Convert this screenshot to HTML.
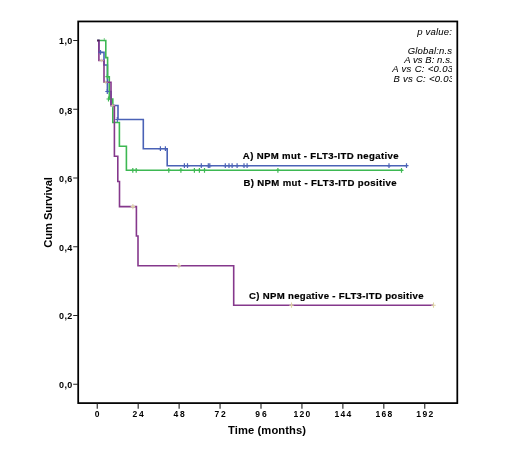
<!DOCTYPE html>
<html><head><meta charset="utf-8"><style>
html,body{margin:0;padding:0;background:#fff;width:520px;height:449px;overflow:hidden;}
svg{display:block;will-change:transform;}
</style></head><body>
<svg width="520" height="449" viewBox="0 0 520 449">
<defs><clipPath id="pc"><rect x="300" y="0" width="152.1" height="100"/></clipPath></defs>
<rect x="78.2" y="21.45" width="379.1" height="381.65" fill="none" stroke="#000" stroke-width="1.75"/>
<path d="M73.2,40.50H78M73.2,109.26H78M73.2,178.02H78M73.2,246.78H78M73.2,315.54H78M73.2,384.30H78" stroke="#222" stroke-width="1.1"/>
<path d="M97.24,403.5V408.7M138.18,403.5V408.7M179.12,403.5V408.7M220.06,403.5V408.7M261.00,403.5V408.7M301.94,403.5V408.7M342.88,403.5V408.7M383.82,403.5V408.7M424.76,403.5V408.7" stroke="#222" stroke-width="1.1"/>
<path d="M97.2,40.5 H98.9 V52.4 H104 V65 H107.4 V91.5 H111 V105.5 H118 V119.5 H143.3 V148.7 H167.2 V165.7 H407.2" stroke="#4a62b6" stroke-width="1.6" fill="none"/>
<path d="M97.2,40.5 H105.8 V57.6 H107.6 V76.7 H109.3 V99 H112.8 V122.5 H119.4 V146.3 H126.4 V170.3 H402.6" stroke="#3db852" stroke-width="1.6" fill="none"/>
<path d="M97.2,40.5 H98.9 V60.5 H104 V82.3 H111 V105.5 H114.4 V156.3 H117.8 V181.5 H119.5 V206.6 H136.4 V236 H138 V265.7 H233.7 V305.2 H433.3" stroke="#85388c" stroke-width="1.6" fill="none"/>
<path d="M100.50,50.00V54.80M98.50,52.40H102.50M117.30,117.10V121.90M115.30,119.50H119.30M107.30,89.10V93.90M105.30,91.50H109.30M160.40,146.30V151.10M158.40,148.70H162.40M165.40,146.30V151.10M163.40,148.70H167.40M184.40,163.30V168.10M182.40,165.70H186.40M187.50,163.30V168.10M185.50,165.70H189.50M201.30,163.30V168.10M199.30,165.70H203.30M208.30,163.30V168.10M206.30,165.70H210.30M209.80,163.30V168.10M207.80,165.70H211.80M225.30,163.30V168.10M223.30,165.70H227.30M229.00,163.30V168.10M227.00,165.70H231.00M232.10,163.30V168.10M230.10,165.70H234.10M237.10,163.30V168.10M235.10,165.70H239.10M244.00,163.30V168.10M242.00,165.70H246.00M247.10,163.30V168.10M245.10,165.70H249.10M389.00,163.30V168.10M387.00,165.70H391.00M406.50,163.30V168.10M404.50,165.70H408.50" stroke="#4a62b6" stroke-width="1.2" fill="none"/>
<path d="M108.50,96.60V101.40M106.50,99.00H110.50M107.40,74.30V79.10M105.40,76.70H109.40M132.80,167.90V172.70M130.80,170.30H134.80M136.20,167.90V172.70M134.20,170.30H138.20M168.80,167.90V172.70M166.80,170.30H170.80M180.90,167.90V172.70M178.90,170.30H182.90M194.40,167.90V172.70M192.40,170.30H196.40M199.40,167.90V172.70M197.40,170.30H201.40M204.50,167.90V172.70M202.50,170.30H206.50M277.90,167.90V172.70M275.90,170.30H279.90M401.50,167.90V172.70M399.50,170.30H403.50" stroke="#3db852" stroke-width="1.2" fill="none"/>
<path d="M132.90,204.00V209.20M130.70,206.60H135.10M178.90,263.10V268.30M176.70,265.70H181.10M291.50,302.60V307.80M289.30,305.20H293.70M433.50,302.60V307.80M431.30,305.20H435.70" stroke="#ddd3a4" stroke-width="1.1" fill="none"/>
<g opacity="0.7"><path d="M101.50,58.70V62.30M99.30,60.50H103.70M105.50,80.50V84.10M103.30,82.30H107.70M112.60,103.70V107.30M110.40,105.50H114.80" stroke="#ddd3a4" stroke-width="1.0" fill="none"/></g>
<path d="M104.3,38V41.2" stroke="#3db852" stroke-width="1.1" opacity="0.6"/>
<path d="M97.2,40.5H99.6" stroke="#4d1d5a" stroke-width="1.6"/>
<text x="72.6" y="44.30" font-family="Liberation Sans, sans-serif" font-size="9" font-weight="bold" text-anchor="end" letter-spacing="0.35">1,0</text>
<text x="72.6" y="113.90" font-family="Liberation Sans, sans-serif" font-size="9" font-weight="bold" text-anchor="end" letter-spacing="0.35">0,8</text>
<text x="72.6" y="182.00" font-family="Liberation Sans, sans-serif" font-size="9" font-weight="bold" text-anchor="end" letter-spacing="0.35">0,6</text>
<text x="72.6" y="251.00" font-family="Liberation Sans, sans-serif" font-size="9" font-weight="bold" text-anchor="end" letter-spacing="0.35">0,4</text>
<text x="72.6" y="319.20" font-family="Liberation Sans, sans-serif" font-size="9" font-weight="bold" text-anchor="end" letter-spacing="0.35">0,2</text>
<text x="72.6" y="388.10" font-family="Liberation Sans, sans-serif" font-size="9" font-weight="bold" text-anchor="end" letter-spacing="0.35">0,0</text>
<text x="97.24" y="416.8" font-family="Liberation Sans, sans-serif" font-size="8.5" font-weight="bold" text-anchor="middle" letter-spacing="0">0</text>
<text x="139.13" y="416.8" font-family="Liberation Sans, sans-serif" font-size="8.5" font-weight="bold" text-anchor="middle" letter-spacing="1.9">24</text>
<text x="180.07" y="416.8" font-family="Liberation Sans, sans-serif" font-size="8.5" font-weight="bold" text-anchor="middle" letter-spacing="1.9">48</text>
<text x="221.01" y="416.8" font-family="Liberation Sans, sans-serif" font-size="8.5" font-weight="bold" text-anchor="middle" letter-spacing="1.9">72</text>
<text x="261.95" y="416.8" font-family="Liberation Sans, sans-serif" font-size="8.5" font-weight="bold" text-anchor="middle" letter-spacing="1.9">96</text>
<text x="302.59" y="416.8" font-family="Liberation Sans, sans-serif" font-size="8.5" font-weight="bold" text-anchor="middle" letter-spacing="1.3">120</text>
<text x="343.53" y="416.8" font-family="Liberation Sans, sans-serif" font-size="8.5" font-weight="bold" text-anchor="middle" letter-spacing="1.3">144</text>
<text x="384.47" y="416.8" font-family="Liberation Sans, sans-serif" font-size="8.5" font-weight="bold" text-anchor="middle" letter-spacing="1.3">168</text>
<text x="425.41" y="416.8" font-family="Liberation Sans, sans-serif" font-size="8.5" font-weight="bold" text-anchor="middle" letter-spacing="1.3">192</text>
<text x="242.85" y="158.90" font-family="Liberation Sans, sans-serif" font-size="9.6" font-weight="bold" font-style="normal" letter-spacing="0.356" stroke="#000" stroke-width="0.2">A) NPM mut - FLT3-ITD negative</text>
<text x="243.38" y="185.90" font-family="Liberation Sans, sans-serif" font-size="9.6" font-weight="bold" font-style="normal" letter-spacing="0.364" stroke="#000" stroke-width="0.2">B) NPM mut - FLT3-ITD positive</text>
<text x="249.03" y="298.70" font-family="Liberation Sans, sans-serif" font-size="9.6" font-weight="bold" font-style="normal" letter-spacing="0.310" stroke="#000" stroke-width="0.2">C) NPM negative - FLT3-ITD positive</text>
<text x="227.97" y="433.80" font-family="Liberation Sans, sans-serif" font-size="11.2" font-weight="bold" font-style="normal" letter-spacing="0.104">Time (months)</text>
<text transform="translate(52.3,247.3) rotate(-90)" x="-0.50" y="0" font-family="Liberation Sans, sans-serif" font-size="11.2" font-weight="bold" font-style="normal" letter-spacing="-0.068">Cum Survival</text>
<g clip-path="url(#pc)"><text x="417.25" y="34.90" font-family="Liberation Sans, sans-serif" font-size="9.5" font-weight="normal" font-style="italic" letter-spacing="0.211" stroke="#000" stroke-width="0.05">p value:</text><text x="407.80" y="54.30" font-family="Liberation Sans, sans-serif" font-size="9.5" font-weight="normal" font-style="italic" letter-spacing="0.156" stroke="#000" stroke-width="0.05">Global:n.s</text><text x="404.18" y="63.00" font-family="Liberation Sans, sans-serif" font-size="9.5" font-weight="normal" font-style="italic" letter-spacing="0.066" stroke="#000" stroke-width="0.05">A vs B: n.s.</text><text x="392.27" y="72.30" font-family="Liberation Sans, sans-serif" font-size="9.5" font-weight="normal" font-style="italic" letter-spacing="0.321" stroke="#000" stroke-width="0.05">A vs C: &lt;0.03</text><text x="393.45" y="81.50" font-family="Liberation Sans, sans-serif" font-size="9.5" font-weight="normal" font-style="italic" letter-spacing="0.275" stroke="#000" stroke-width="0.05">B vs C: &lt;0.03</text></g>
</svg>
</body></html>
